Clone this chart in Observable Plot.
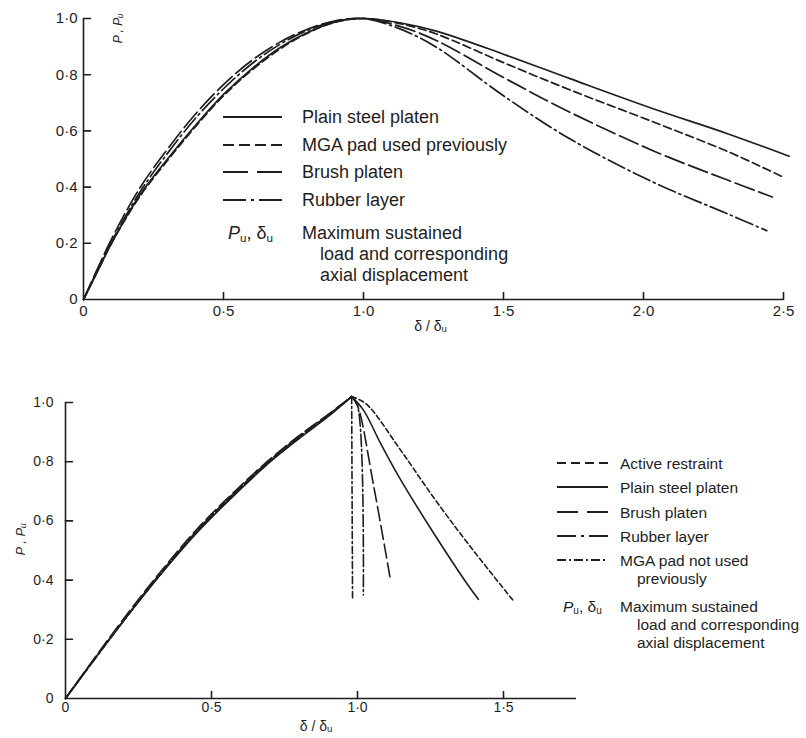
<!DOCTYPE html>
<html><head><meta charset="utf-8">
<script src="https://cdn.jsdelivr.net/npm/d3@7"></script>
<script src="https://cdn.jsdelivr.net/npm/@observablehq/plot@0.6"></script>
<style>
body{margin:0;background:#fff;}
#wrap{position:relative;width:806px;height:738px;font-family:"Liberation Sans",Arial,sans-serif;color:#1e1e1e;}
#wrap > svg{position:absolute;left:0;}
</style></head><body><div id="wrap"></div>
<script>
// ---------- DATA: upper chart ----------
const topSeries = ["Plain steel platen", "MGA pad used previously", "Brush platen", "Rubber layer"];
const topPlainX = [0, 0.05, 0.1, 0.2, 0.3, 0.4, 0.5, 0.6, 0.7, 0.8, 0.9, 1.0, 1.13, 1.26, 1.5, 1.74, 2.04, 2.3, 2.52];
const topPlainY = [0, 0.10, 0.20, 0.37, 0.50, 0.62, 0.73, 0.82, 0.895, 0.95, 0.988, 1.0, 0.985, 0.955, 0.873, 0.785, 0.677, 0.59, 0.51];
const topMgaX = [0, 0.05, 0.1, 0.2, 0.3, 0.4, 0.5, 0.6, 0.7, 0.8, 0.9, 1.0, 1.13, 1.26, 1.5, 1.74, 2.04, 2.3, 2.5];
const topMgaY = [0, 0.10, 0.20, 0.365, 0.495, 0.615, 0.725, 0.815, 0.89, 0.948, 0.987, 1.0, 0.982, 0.945, 0.843, 0.745, 0.63, 0.527, 0.435];
const topBrushX = [0, 0.05, 0.1, 0.2, 0.3, 0.4, 0.5, 0.6, 0.7, 0.8, 0.9, 1.0, 1.13, 1.26, 1.5, 1.74, 2.04, 2.3, 2.46];
const topBrushY = [0, 0.11, 0.215, 0.395, 0.535, 0.66, 0.765, 0.85, 0.915, 0.962, 0.992, 1.0, 0.972, 0.922, 0.79, 0.665, 0.527, 0.425, 0.365];
const topRubberX = [0, 0.05, 0.1, 0.2, 0.3, 0.4, 0.5, 0.6, 0.7, 0.8, 0.9, 1.0, 1.13, 1.26, 1.5, 1.74, 2.04, 2.3, 2.44];
const topRubberY = [0, 0.105, 0.205, 0.38, 0.52, 0.645, 0.75, 0.838, 0.907, 0.958, 0.99, 1.0, 0.963, 0.898, 0.725, 0.57, 0.415, 0.305, 0.245];
const topXTicks = [0, 0.5, 1.0, 1.5, 2.0, 2.5];
const topYTicks = [0, 0.2, 0.4, 0.6, 0.8, 1.0];

// ---------- DATA: lower chart ----------
const botSeries = ["Active restraint", "Plain steel platen", "Brush platen", "Rubber layer", "MGA pad not used previously"];
const botActiveX = [0, 0.15, 0.3, 0.45, 0.55, 0.69, 0.8, 0.9, 0.98, 1.03, 1.147, 1.26, 1.377, 1.534];
const botActiveY = [0, 0.20, 0.39, 0.565, 0.665, 0.795, 0.885, 0.957, 1.02, 0.995, 0.84, 0.68, 0.525, 0.33];
const botPlainX = [0, 0.15, 0.3, 0.45, 0.55, 0.69, 0.8, 0.9, 0.98, 1.02, 1.08, 1.147, 1.26, 1.377, 1.414];
const botPlainY = [0, 0.20, 0.388, 0.56, 0.66, 0.79, 0.878, 0.953, 1.02, 0.975, 0.86, 0.74, 0.56, 0.385, 0.335];
const botBrushX = [0, 0.15, 0.3, 0.45, 0.55, 0.69, 0.8, 0.9, 0.98, 1.0, 1.055, 1.113];
const botBrushY = [0, 0.205, 0.397, 0.572, 0.672, 0.80, 0.888, 0.96, 1.02, 0.99, 0.72, 0.40];
const botRubberX = [0, 0.15, 0.3, 0.45, 0.55, 0.69, 0.8, 0.9, 0.98, 1.0, 1.02];
const botRubberY = [0, 0.20, 0.393, 0.567, 0.668, 0.797, 0.885, 0.958, 1.02, 0.99, 0.35];
const botMgaX = [0, 0.15, 0.3, 0.45, 0.55, 0.69, 0.8, 0.9, 0.98, 0.983];
const botMgaY = [0, 0.198, 0.39, 0.562, 0.663, 0.792, 0.88, 0.955, 1.02, 0.34];
const botXTicks = [0, 0.5, 1.0, 1.5];
const botYTicks = [0, 0.2, 0.4, 0.6, 0.8, 1.0];

// ---------- styling ----------
const INK = "#1e1e1e";
const FONT = '"Liberation Sans", Arial, sans-serif';
const fmt = d => d === 0 ? "0" : d.toFixed(1).replace(".", "·");
const topDash = [null, "8,4", "20,5", "18,4,2,4"];
const topLegendDash = [null, "11,5", "25,9", "23,5,3,5"];
const botDash = ["5,3", null, "14,5", "12,3,2,3", "7,3,2,3"];
const botLegendDash = ["9,5", null, "21,9", "19,5,3,5", "9,3,2,3"];

function rows(series, xs, ys, splitPeak) {
  const peak = d3.maxIndex(ys);
  const out = [];
  xs.forEach((x, i) => {
    if (!splitPeak) { out.push({series, part: series, x, y: ys[i]}); return; }
    if (i <= peak) out.push({series, part: series + "-up", x, y: ys[i]});
    if (i >= peak) out.push({series, part: series + "-down", x, y: ys[i]});
  });
  return out;
}

const topData = [
  rows(topSeries[0], topPlainX, topPlainY, false),
  rows(topSeries[1], topMgaX, topMgaY, false),
  rows(topSeries[2], topBrushX, topBrushY, false),
  rows(topSeries[3], topRubberX, topRubberY, false)
];
const botData = [
  rows(botSeries[0], botActiveX, botActiveY, true),
  rows(botSeries[1], botPlainX, botPlainY, true),
  rows(botSeries[2], botBrushX, botBrushY, true),
  rows(botSeries[3], botRubberX, botRubberY, true),
  rows(botSeries[4], botMgaX, botMgaY, true)
];

function frameMarks(xTicks, yTicks, o) {
  return [
    Plot.ruleY([0], {stroke: INK, strokeWidth: 1.6}),
    Plot.ruleX([0], {stroke: INK, strokeWidth: 1.6}),
    Plot.vector(xTicks.filter(d => d > 0), {x: d => d, y: 0, length: 7, rotate: 0, anchor: "start", r: 0, stroke: INK, strokeWidth: 1.6}),
    Plot.vector(yTicks.filter(d => d > 0), {x: 0, y: d => d, length: 7, rotate: 90, anchor: "start", r: 0, stroke: INK, strokeWidth: 1.6}),
    Plot.axisX(xTicks, {tickSize: 0, tickPadding: o.xPad, tickFormat: fmt, label: null, fontSize: o.tickFont, fill: INK}),
    Plot.axisY(yTicks, {tickSize: 0, tickPadding: o.yPad, tickFormat: fmt, label: null, fontSize: o.tickFont, fill: INK})
  ];
}

// ---------- upper chart ----------
const topPlot = Plot.plot({
  width: 806, height: 340,
  marginLeft: 83, marginRight: 23, marginTop: 18, marginBottom: 41,
  x: {domain: [0, 2.5], label: null},
  y: {domain: [0, 1], label: null},
  style: {fontFamily: FONT, color: INK, background: "transparent", overflow: "visible"},
  marks: [
    ...frameMarks(topXTicks, topYTicks, {xPad: 6, yPad: 6, tickFont: 15}),
    ...topData.map((d, i) => Plot.line(d, {x: "x", y: "y", z: "part", curve: "catmull-rom", stroke: INK, strokeWidth: 1.7, strokeDasharray: topDash[i]})),
    Plot.text(["P , Pᵤ"], {frameAnchor: "top-left", dx: 30, dy: -5, rotate: -90, textAnchor: "end", fontSize: 12, fontStyle: "italic", fill: INK}),
    Plot.text(["δ / δᵤ"], {frameAnchor: "bottom", dx: -3, dy: 31, fontSize: 14, fill: INK})
  ]
});
topPlot.style.top = "0px";

// ---------- lower chart ----------
const botPlot = Plot.plot({
  width: 806, height: 378,
  marginLeft: 65, marginRight: 230, marginTop: 42, marginBottom: 40,
  x: {domain: [0, 1.75], label: null},
  y: {domain: [0, 1], label: null},
  style: {fontFamily: FONT, color: INK, background: "transparent", overflow: "visible"},
  marks: [
    ...frameMarks(botXTicks, botYTicks, {xPad: 4, yPad: 12, tickFont: 14}),
    ...botData.map((d, i) => Plot.line(d, {x: "x", y: "y", z: "part", curve: "catmull-rom", stroke: INK, strokeWidth: 1.6, strokeDasharray: botDash[i]})),
    Plot.text(["P , Pᵤ"], {frameAnchor: "left", dx: -45, dy: 5, rotate: -90, fontSize: 13, fontStyle: "italic", fill: INK}),
    Plot.text(["δ / δᵤ"], {frameAnchor: "bottom", dx: -5, dy: 32, fontSize: 14, fill: INK})
  ]
});
botPlot.style.top = "360px";

const wrap = document.getElementById("wrap");
wrap.appendChild(topPlot);
wrap.appendChild(botPlot);

// ---------- legends (overlay) ----------
const overlay = d3.select(wrap).append("svg")
  .attr("width", 806).attr("height", 738)
  .style("top", "0px").style("pointer-events", "none")
  .attr("font-family", FONT).attr("fill", INK);

function legend(cfg) {
  const g = overlay.append("g").attr("font-size", cfg.font);
  cfg.items.forEach((name, i) => {
    const y = cfg.rows[i];
    g.append("line").attr("x1", cfg.x1).attr("x2", cfg.x2).attr("y1", y).attr("y2", y)
      .attr("stroke", INK).attr("stroke-width", 1.8).attr("stroke-dasharray", cfg.dash[i]);
    const lines = cfg.wrap && cfg.wrap[name] ? cfg.wrap[name] : [name];
    lines.forEach((t, j) => {
      g.append("text").attr("x", j === 0 ? cfg.tx : cfg.tx + cfg.indent).attr("y", y + j * cfg.lh)
        .attr("dominant-baseline", "central").text(t);
    });
  });
  const ny = cfg.noteY;
  const sym = g.append("text").attr("x", cfg.symX).attr("y", ny).attr("dominant-baseline", "central");
  sym.append("tspan").attr("font-style", "italic").text("P");
  sym.append("tspan").attr("font-size", "65%").attr("dy", 4).text("u");
  sym.append("tspan").attr("dy", -4).text(", δ");
  sym.append("tspan").attr("font-size", "65%").attr("dy", 4).text("u");
  ["Maximum sustained", "load and corresponding", "axial displacement"].forEach((t, j) => {
    g.append("text").attr("x", j === 0 ? cfg.tx : cfg.tx + cfg.indent).attr("y", ny + j * cfg.noteLh)
      .attr("dominant-baseline", "central").text(t);
  });
}

legend({items: topSeries, dash: topLegendDash, x1: 223, x2: 282, tx: 302, indent: 18,
  rows: [117, 145, 172, 200], font: 18, lh: 20, noteY: 233, noteLh: 21, symX: 228});
legend({items: botSeries, dash: botLegendDash, x1: 557, x2: 608, tx: 620, indent: 17,
  rows: [463, 487, 512, 536, 560], font: 15.5, lh: 18,
  wrap: {"MGA pad not used previously": ["MGA pad not used", "previously"]},
  noteY: 606, noteLh: 18, symX: 563});
</script></body></html>
